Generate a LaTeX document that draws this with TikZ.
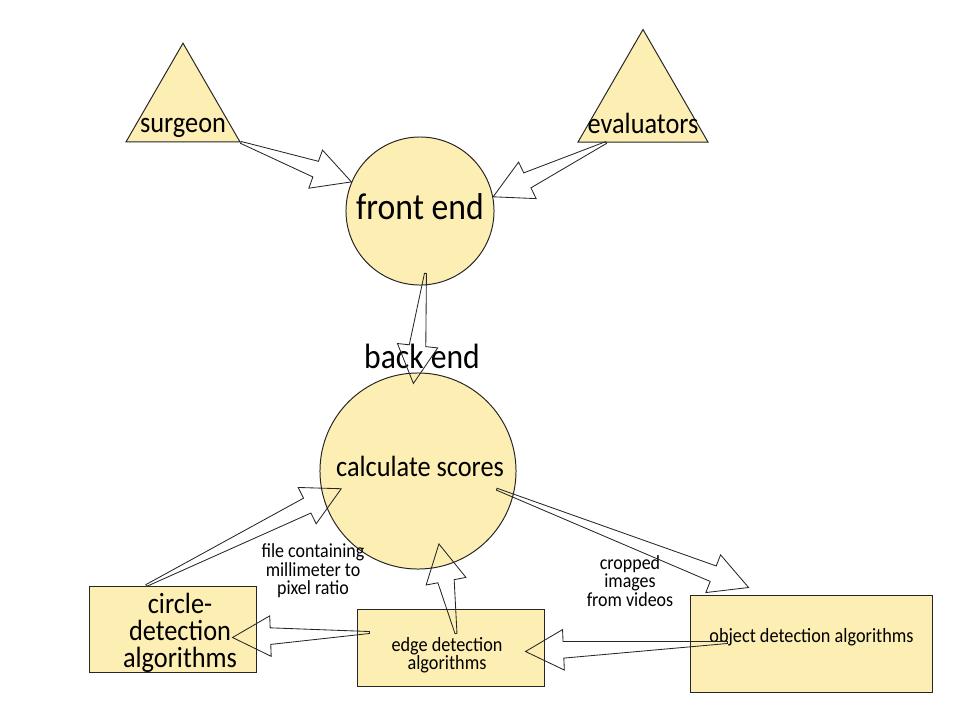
\documentclass[tikz,border=0pt]{standalone}
\usepackage{fontspec}
\setmainfont{Carlito}[FakeStretch=0.9]
\usepackage{tikz}
\usetikzlibrary{shapes.geometric,calc}
\definecolor{paleyellow}{HTML}{FDEEB3}
\definecolor{ink}{HTML}{262626}
\tikzset{
  actor/.style={regular polygon,regular polygon sides=3,draw=ink,fill=paleyellow,
                line width=0.7pt,inner sep=0pt},
  process/.style={circle,draw=ink,fill=paleyellow,line width=0.7pt,
                  inner sep=0pt,align=center},
  algobox/.style={rectangle,draw=ink,fill=paleyellow,line width=0.7pt,
                  inner sep=0pt,align=center},
  bigtext/.style={font=\fontsize{20.8}{19}\selectfont},
  smalltext/.style={font=\fontsize{14.4}{13.2}\selectfont},
  flowlabel/.style={align=center,inner sep=0pt,font=\fontsize{14.2}{13.2}\selectfont},
  inside/.style={anchor=center,align=center,inner sep=0pt},
  fatarr/.style={draw=ink,line width=0.6pt,line join=miter}
}
% hollow wedge arrow from #1 (tail) to #2 (tip)
\newcommand\flowarrow[2]{%
  \path ($(#2)!27pt!(#1)$) coordinate (hb);
  \draw[fatarr] ($(#1)!0.7pt!90:(#2)$)
    -- ($(hb)!5.9pt!-90:(#1)$) -- ($(hb)!14.4pt!-90:(#1)$)
    -- (#2)
    -- ($(hb)!14.4pt!90:(#1)$) -- ($(hb)!5.9pt!90:(#1)$)
    -- ($(#1)!0.7pt!-90:(#2)$) -- cycle;}

\begin{document}
\begin{tikzpicture}[x=0.025cm,y=-0.025cm]
  \path[use as bounding box] (0,0) rectangle (962,712);

  \node[actor,minimum size=3.29cm,
        label={[anchor=base,yshift=0.25cm,bigtext]south:surgeon}] (surgeon) at (183,109) {};
  \node[actor,minimum size=3.75cm,
        label={[anchor=base,yshift=0.23cm,bigtext]south:evaluators}] (evaluators) at (643,104.5) {};

  \node[process,minimum size=3.7cm,
        label={[inside,yshift=0.1cm,font=\fontsize{26.6}{28}\selectfont]center:front end}] (frontend) at (420,211) {};
  \node[inner sep=0pt,font=\fontsize{25}{27}\selectfont] (backend) at (422,356) {back end};
  \node[process,minimum size=4.9cm,
        label={[inside,yshift=0.125cm,xshift=0.05cm,bigtext]center:calculate scores}] (calc) at (418,471) {};

  \node[algobox,minimum width=4.15cm,minimum height=2.15cm,
        label={[inside,xshift=0.175cm,yshift=-0.1cm,bigtext]center:circle-\\detection\\algorithms}] (circdet) at (173,629) {};
  \node[algobox,minimum width=4.65cm,minimum height=1.925cm,
        label={[inside,xshift=-0.1cm,yshift=-0.19cm,smalltext]center:edge detection\\algorithms}] (edgedet) at (451,647.5) {};
  \node[algobox,minimum width=6.025cm,minimum height=2.425cm,
        label={[inside,yshift=0.16cm,smalltext]center:object detection algorithms}] (objdet) at (811.5,643.5) {};

  \node[flowlabel] (scalelbl) at (313,571) {file containing\\millimeter to\\pixel ratio};
  \node[flowlabel] (croplbl) at (630,581) {cropped\\images\\from videos};

  \coordinate (surgeon-out) at (surgeon.corner 3);
  \coordinate (front-in1) at (frontend.157);
  \coordinate (eval-out) at ($(evaluators.corner 2)!0.22!(evaluators.corner 3)$);
  \coordinate (front-in2) at (frontend.11);
  \coordinate (front-out) at ($(frontend.center)!0.84!(frontend.-85)$);
  \coordinate (calc-in1) at ($(calc.center)!0.89!(calc.93)$);
  \coordinate (circ-out) at ($(circdet.north west)!0.34!(circdet.north east)$);
  \coordinate (calc-in2) at ($(calc.center)!0.8!(calc.193)$);
  \coordinate (edge-up) at ([shift={(5,25)}]edgedet.north);
  \coordinate (calc-in3) at ($(calc.center)!0.77!(calc.-74)$);
  \coordinate (calc-out) at ($(calc.center)!0.82!(calc.-13)$);
  \coordinate (obj-in) at ($(objdet.north west)!0.24!(objdet.north east)+(0,-7)$);
  \coordinate (edge-left) at ([shift={(12,24)}]edgedet.north west);
  \coordinate (circ-in) at ([shift={(-24,52)}]circdet.north east);
  \coordinate (obj-out) at ([shift={(37,48)}]objdet.north west);
  \coordinate (edge-in) at ([shift={(-19,43)}]edgedet.north east);

  \flowarrow{surgeon-out}{front-in1}
  \flowarrow{eval-out}{front-in2}
  \flowarrow{front-out}{calc-in1}
  \flowarrow{circ-out}{calc-in2}
  \flowarrow{edge-up}{calc-in3}
  \flowarrow{calc-out}{obj-in}
  \flowarrow{edge-left}{circ-in}
  \flowarrow{obj-out}{edge-in}
\end{tikzpicture}
\end{document}
